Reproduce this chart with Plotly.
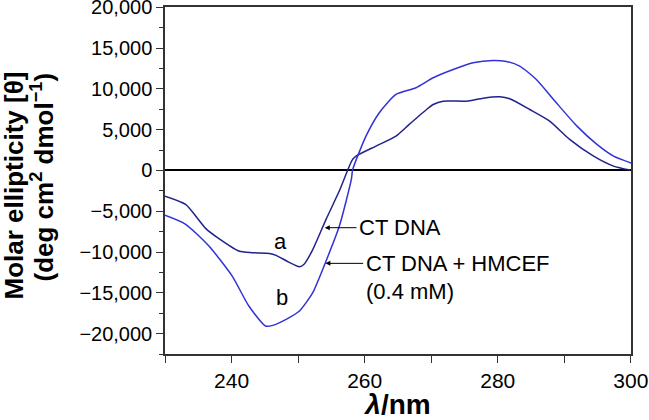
import plotly.graph_objects as go

# Curve a: CT DNA
wl_a = [230, 233.1, 236.1, 238, 241.1, 243, 245.7, 246.7, 248.5, 250.2, 250.9, 252.2, 254.2,
        256.2, 258.1, 258.7, 261.7, 264.7, 266.7, 269.3, 270.3, 271.8, 275.3, 277.8,
        280.3, 281.8, 284.8, 287.8, 290.8, 294.4, 297.4, 299.9]
cd_a = [-3150, -4170, -7100, -8300, -9880, -10080, -10170, -10410, -11200, -11800, -11500,
        -9700, -6000, -2500, 1225, 1750, 2980, 4200, 5640, 7470, 8080, 8490, 8490, 8860,
        9020, 8780, 7470, 6040, 3800, 1750, 530, 40]

# Curve b: CT DNA + HMCEF (0.4 mM)
wl_b = [230, 233.1, 236.6, 240.1, 242.6, 245.1, 246.2, 248.2, 250.2, 252.2, 254.2, 256.2,
        258.0, 258.2, 260.2, 262.2, 264.7, 267.7, 270.3, 273.3, 276.3, 279.3, 281.3,
        283.3, 285.8, 288.8, 291.9, 294.9, 297.4, 300.2]
cd_b = [-5500, -6600, -9270, -12950, -16620, -19070, -18990, -18250, -17230, -14980,
        -11100, -6820, -1100, 100, 4200, 7070, 9310, 10130, 11360, 12370, 13190, 13470,
        13350, 12780, 11150, 8290, 5430, 3190, 1750, 860]

x_tickvals = [240, 260, 280, 300]
y_tickvals = [-20000, -15000, -10000, -5000, 0, 5000, 10000, 15000, 20000]
y_ticktext = ["\u221220,000", "\u221215,000", "\u221210,000", "\u22125,000", "0",
              "5,000", "10,000", "15,000", "20,000"]

FONT = "Liberation Sans, Arial, sans-serif"

fig = go.Figure()
fig.add_trace(go.Scatter(x=wl_a, y=cd_a, mode="lines", line=dict(color="#22228c", width=1.5,
                                                                   shape="spline", smoothing=0.6),
                         showlegend=False))
fig.add_trace(go.Scatter(x=wl_b, y=cd_b, mode="lines", line=dict(color="#3232d8", width=1.5,
                                                                   shape="spline", smoothing=0.6),
                         showlegend=False))

# labels a, b
fig.add_annotation(x=247.4, y=-8660, text="a", showarrow=False, font=dict(size=22, color="black", family=FONT))
fig.add_annotation(x=247.6, y=-15600, text="b", showarrow=False, font=dict(size=22, color="black", family=FONT))

# arrows
fig.add_annotation(x=254.0, y=-7020, ax=259.0, ay=-7020, axref="x", ayref="y", xref="x", yref="y",
                   text="", showarrow=True, arrowhead=2, arrowsize=1, arrowwidth=1, arrowcolor="black")
fig.add_annotation(x=254.1, y=-11390, ax=260.0, ay=-11390, axref="x", ayref="y", xref="x", yref="y",
                   text="", showarrow=True, arrowhead=2, arrowsize=1, arrowwidth=1, arrowcolor="black")
fig.add_annotation(x=258.9, y=-7020, text="CT DNA", showarrow=False, xanchor="left",
                   font=dict(size=22, color="black", family=FONT))
fig.add_annotation(x=259.9, y=-11390, text="CT DNA + HMCEF", showarrow=False, xanchor="left",
                   font=dict(size=22, color="black", family=FONT))
fig.add_annotation(x=259.9, y=-14780, text="(0.4 mM)", showarrow=False, xanchor="left",
                   font=dict(size=22, color="black", family=FONT))

# y-axis title as two rotated lines
fig.add_annotation(xref="paper", yref="paper", x=0, y=0.5, xshift=-152, yshift=-5,
                   text="<b>Molar ellipticity [\u03b8]</b>", textangle=-90, showarrow=False,
                   xanchor="center", yanchor="middle", font=dict(size=26, color="black", family=FONT))
fig.add_annotation(xref="paper", yref="paper", x=0, y=0.5, xshift=-122, yshift=3,
                   text="<b>(deg cm<sup>2</sup> dmol<sup>\u22121</sup>)</b>", textangle=-90, showarrow=False,
                   xanchor="center", yanchor="middle", font=dict(size=26, color="black", family=FONT))

fig.update_layout(
    width=649, height=420,
    margin=dict(l=165, r=18, t=7, b=66),
    plot_bgcolor="white", paper_bgcolor="white",
    font=dict(family=FONT, color="black"),
    xaxis=dict(range=[230, 300.02], tickvals=x_tickvals, ticks="outside", ticklen=7, tickwidth=1,
               tickcolor="#333", showline=True, linecolor="#333", linewidth=1.5, mirror=True,
               showgrid=False, zeroline=False, tickfont=dict(size=21, family=FONT), automargin=False,
               ticklabeloverflow="allow",
               minor=dict(dtick=10, tick0=230, ticks="outside", ticklen=7, tickcolor="#333", showgrid=False),
               title=dict(text="<b><i>\u03bb</i>/nm</b>", font=dict(size=28, family=FONT), standoff=4)),
    yaxis=dict(range=[-22500, 20030], tickvals=y_tickvals, ticktext=y_ticktext, ticks="outside",
               ticklen=7, tickwidth=1, tickcolor="#333", showline=True, linecolor="#333",
               linewidth=1.5, mirror=True, showgrid=False, automargin=False,
               ticklabeloverflow="allow",
               zeroline=True, zerolinecolor="black", zerolinewidth=1.5,
               tickfont=dict(size=20, family=FONT),
               minor=dict(dtick=2500, tick0=0, ticks="outside", ticklen=4, tickcolor="#333", showgrid=False)),
)

fig.write_html("out.html", config={"displayModeBar": False},
               post_script="document.body.style.margin='0px';")
